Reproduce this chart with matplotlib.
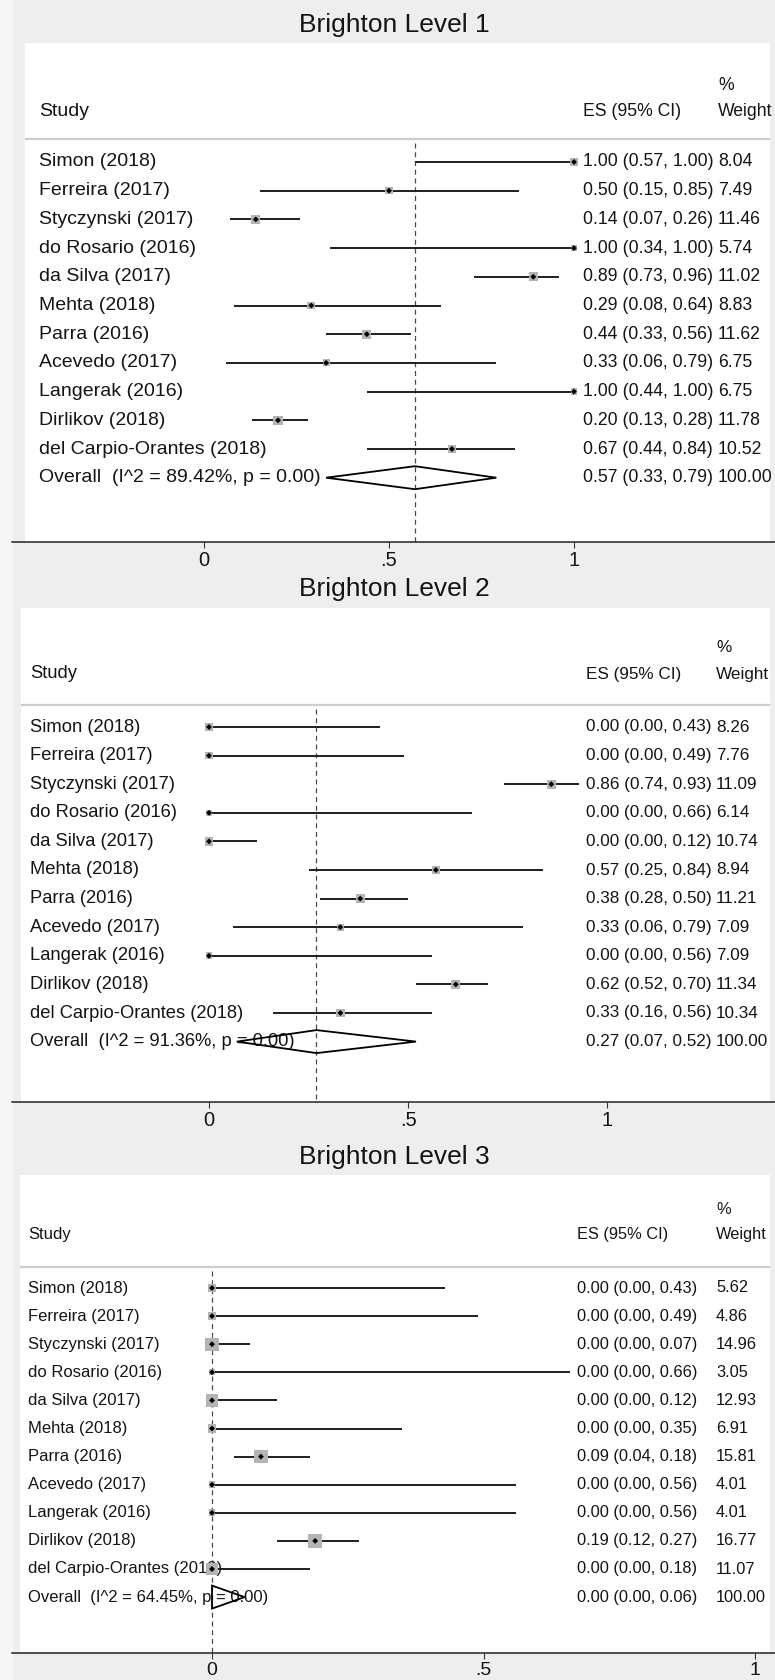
import numpy as np
import matplotlib
matplotlib.use("Agg")
import matplotlib.pyplot as plt
from matplotlib.patches import Rectangle
from matplotlib import transforms

plt.rcParams['font.family'] = ['Liberation Sans', 'DejaVu Sans']

# ---------------------------------------------------------------- data
studies = ["Simon (2018)", "Ferreira (2017)", "Styczynski (2017)",
           "do Rosario (2016)", "da Silva (2017)", "Mehta (2018)",
           "Parra (2016)", "Acevedo (2017)", "Langerak (2016)",
           "Dirlikov (2018)", "del Carpio-Orantes (2018)"]
titles = ["Brighton Level 1", "Brighton Level 2", "Brighton Level 3"]
tick_values = [0, 0.5, 1]
tick_labels = ["0", ".5", "1"]

l1_es = [1.00, 0.50, 0.14, 1.00, 0.89, 0.29, 0.44, 0.33, 1.00, 0.20, 0.67]
l1_lo = [0.57, 0.15, 0.07, 0.34, 0.73, 0.08, 0.33, 0.06, 0.44, 0.13, 0.44]
l1_hi = [1.00, 0.85, 0.26, 1.00, 0.96, 0.64, 0.56, 0.79, 1.00, 0.28, 0.84]
l1_wt = [8.04, 7.49, 11.46, 5.74, 11.02, 8.83, 11.62, 6.75, 6.75, 11.78, 10.52]
l1_overall = [0.57, 0.33, 0.79]
l1_i2, l1_p = 89.42, 0.00

l2_es = [0.00, 0.00, 0.86, 0.00, 0.00, 0.57, 0.38, 0.33, 0.00, 0.62, 0.33]
l2_lo = [0.00, 0.00, 0.74, 0.00, 0.00, 0.25, 0.28, 0.06, 0.00, 0.52, 0.16]
l2_hi = [0.43, 0.49, 0.93, 0.66, 0.12, 0.84, 0.50, 0.79, 0.56, 0.70, 0.56]
l2_wt = [8.26, 7.76, 11.09, 6.14, 10.74, 8.94, 11.21, 7.09, 7.09, 11.34, 10.34]
l2_overall = [0.27, 0.07, 0.52]
l2_i2, l2_p = 91.36, 0.00

l3_es = [0.00, 0.00, 0.00, 0.00, 0.00, 0.00, 0.09, 0.00, 0.00, 0.19, 0.00]
l3_lo = [0.00, 0.00, 0.00, 0.00, 0.00, 0.00, 0.04, 0.00, 0.00, 0.12, 0.00]
l3_hi = [0.43, 0.49, 0.07, 0.66, 0.12, 0.35, 0.18, 0.56, 0.56, 0.27, 0.18]
l3_wt = [5.62, 4.86, 14.96, 3.05, 12.93, 6.91, 15.81, 4.01, 4.01, 16.77, 11.07]
l3_overall = [0.00, 0.00, 0.06]
l3_i2, l3_p = 64.45, 0.00

datasets = [
    (l1_es, l1_lo, l1_hi, l1_wt, l1_overall, l1_i2, l1_p),
    (l2_es, l2_lo, l2_hi, l2_wt, l2_overall, l2_i2, l2_p),
    (l3_es, l3_lo, l3_hi, l3_wt, l3_overall, l3_i2, l3_p),
]

# ---------------------------------------------------------------- layout (pixels)
W, H = 775, 1680
GRAY = "#eeeeee"
MARGIN = "#f6f6f6"
INK = "#141414"
REGION_L = 13      # left edge of each grey graph region
WHITE_R = 770      # right edge of the white plot area

layouts = [
    dict(bg=(0, 571), white_l=25, title_y=25, white_top=43, pct_y=86, hdr_y=111,
         sep_y=139, row0=162, dy=28.7, axis_y=542, x0=204, xs=370, study_x=39,
         es_x=583, wt_x=718, lab_fs=14.0, es_fs=12.7, tick_fs=14.5, box_k=2.65),
    dict(bg=(571, 1138), white_l=21, title_y=589, white_top=608, pct_y=647, hdr_y=674,
         sep_y=705, row0=727, dy=28.6, axis_y=1102, x0=209, xs=398, study_x=30,
         es_x=586, wt_x=716, lab_fs=13.2, es_fs=12.3, tick_fs=14.5, box_k=2.6),
    dict(bg=(1138, 1680), white_l=20, title_y=1157, white_top=1175, pct_y=1210, hdr_y=1235,
         sep_y=1267, row0=1288, dy=28.1, axis_y=1653, x0=212, xs=543, study_x=28,
         es_x=577, wt_x=716, lab_fs=12.0, es_fs=11.8, tick_fs=14.0, box_k=3.4),
]


def fx(px):
    return px / W


def fy(py):
    return 1 - py / H


fig = plt.figure(figsize=(W / 100, H / 100), dpi=100, facecolor=MARGIN)

for title, data, L in zip(titles, datasets, layouts):
    es, lo, hi, wt, overall, i2, p = data
    n = len(studies)
    rows = np.arange(n)

    # grey graph region and white plot area
    top, bot = L["bg"]
    fig.add_artist(Rectangle((fx(REGION_L), fy(bot)), fx(W) - fx(REGION_L), (bot - top) / H,
                             transform=fig.transFigure, facecolor=GRAY,
                             edgecolor="none", zorder=-10))
    fig.add_artist(Rectangle((fx(L["white_l"]), fy(L["axis_y"])),
                             fx(WHITE_R) - fx(L["white_l"]),
                             (L["axis_y"] - L["white_top"]) / H,
                             transform=fig.transFigure, facecolor="white",
                             edgecolor="none", zorder=-9))
    fig.text(fx((REGION_L + W) / 2), fy(L["title_y"]), title, ha="center", va="center",
             fontsize=19, color=INK)

    ax = fig.add_axes([fx(REGION_L - 1), fy(L["axis_y"]), fx(W) - fx(REGION_L - 1),
                       (L["axis_y"] - L["white_top"]) / H])
    ax.patch.set_visible(False)
    ax.set_xlim((REGION_L - 1 - L["x0"]) / L["xs"], (W - L["x0"]) / L["xs"])
    y_bottom = (L["axis_y"] - L["row0"]) / L["dy"]
    y_top = -(L["row0"] - L["white_top"]) / L["dy"]
    ax.set_ylim(y_bottom, y_top)

    def row_of(py):
        return (py - L["row0"]) / L["dy"]

    trans = transforms.blended_transform_factory(fig.transFigure, ax.transData)

    # header
    ax.text(fx(L["study_x"]), row_of(L["hdr_y"]), "Study", transform=trans,
            ha="left", va="center", fontsize=L["lab_fs"], color=INK)
    ax.text(fx(L["es_x"]), row_of(L["hdr_y"]), "ES (95% CI)", transform=trans,
            ha="left", va="center", fontsize=L["es_fs"], color=INK)
    ax.text(fx(L["wt_x"]), row_of(L["hdr_y"]), "Weight", transform=trans,
            ha="left", va="center", fontsize=L["es_fs"], color=INK)
    ax.text(fx(L["wt_x"]), row_of(L["pct_y"]), "%", transform=trans,
            ha="left", va="center", fontsize=L["es_fs"], color=INK)
    ax.plot([fx(L["white_l"]), fx(WHITE_R)], [row_of(L["sep_y"])] * 2, transform=trans,
            color="#cdcdcd", lw=1.6, zorder=1, solid_capstyle="butt")

    # study rows
    for i in rows:
        ax.text(fx(L["study_x"]), i, studies[i], transform=trans, ha="left",
                va="center", fontsize=L["lab_fs"], color=INK, zorder=1)
        ax.text(fx(L["es_x"]), i, f"{es[i]:.2f} ({lo[i]:.2f}, {hi[i]:.2f})",
                transform=trans, ha="left", va="center", fontsize=L["es_fs"],
                color=INK, zorder=1)
        ax.text(fx(L["wt_x"]), i, f"{wt[i]:.2f}", transform=trans, ha="left",
                va="center", fontsize=L["es_fs"], color=INK, zorder=1)

    # overall row
    ov_es, ov_lo, ov_hi = overall
    ax.text(fx(L["study_x"]), n, f"Overall  (I^2 = {i2:.2f}%, p = {p:.2f})",
            transform=trans, ha="left", va="center", fontsize=L["lab_fs"],
            color=INK, zorder=1)
    ax.text(fx(L["es_x"]), n, f"{ov_es:.2f} ({ov_lo:.2f}, {ov_hi:.2f})",
            transform=trans, ha="left", va="center", fontsize=L["es_fs"],
            color=INK, zorder=1)
    ax.text(fx(L["wt_x"]), n, f"{100:.2f}", transform=trans, ha="left",
            va="center", fontsize=L["es_fs"], color=INK, zorder=1)

    # reference line at the pooled estimate
    ax.vlines(ov_es, row_of(L["sep_y"] + 4), y_bottom, colors="#4a4a4a",
              linestyles=(0, (4, 3)), lw=0.9, zorder=2)

    # confidence intervals, weight boxes and point estimates
    ax.hlines(rows, lo, hi, colors="#1e1e1e", lw=1.4, zorder=3)
    side_pt = L["box_k"] * np.sqrt(np.array(wt)) * 0.72
    ax.scatter(es, rows, marker="s", s=side_pt ** 2, color="#b4b4b4",
               edgecolors="none", zorder=4)
    ax.scatter(es, rows, marker="D", s=9, color="black", edgecolors="none", zorder=5)

    # pooled diamond
    h = 11.5 / L["dy"]
    ax.fill([ov_lo, ov_es, ov_hi, ov_es, ov_lo], [n, n - h, n, n + h, n],
            facecolor="none", edgecolor="black", lw=1.3, zorder=5)

    # x axis
    for side in ("top", "left", "right"):
        ax.spines[side].set_visible(False)
    ax.spines["bottom"].set_color("#202020")
    ax.spines["bottom"].set_linewidth(1.1)
    ax.set_yticks([])
    ax.set_xticks(tick_values, tick_labels)
    ax.tick_params(axis="x", direction="out", length=4.5, width=0.8, color="#333333",
                   pad=2, labelsize=L["tick_fs"], labelcolor=INK)

fig.savefig("out.png", dpi=100, facecolor=fig.get_facecolor())
